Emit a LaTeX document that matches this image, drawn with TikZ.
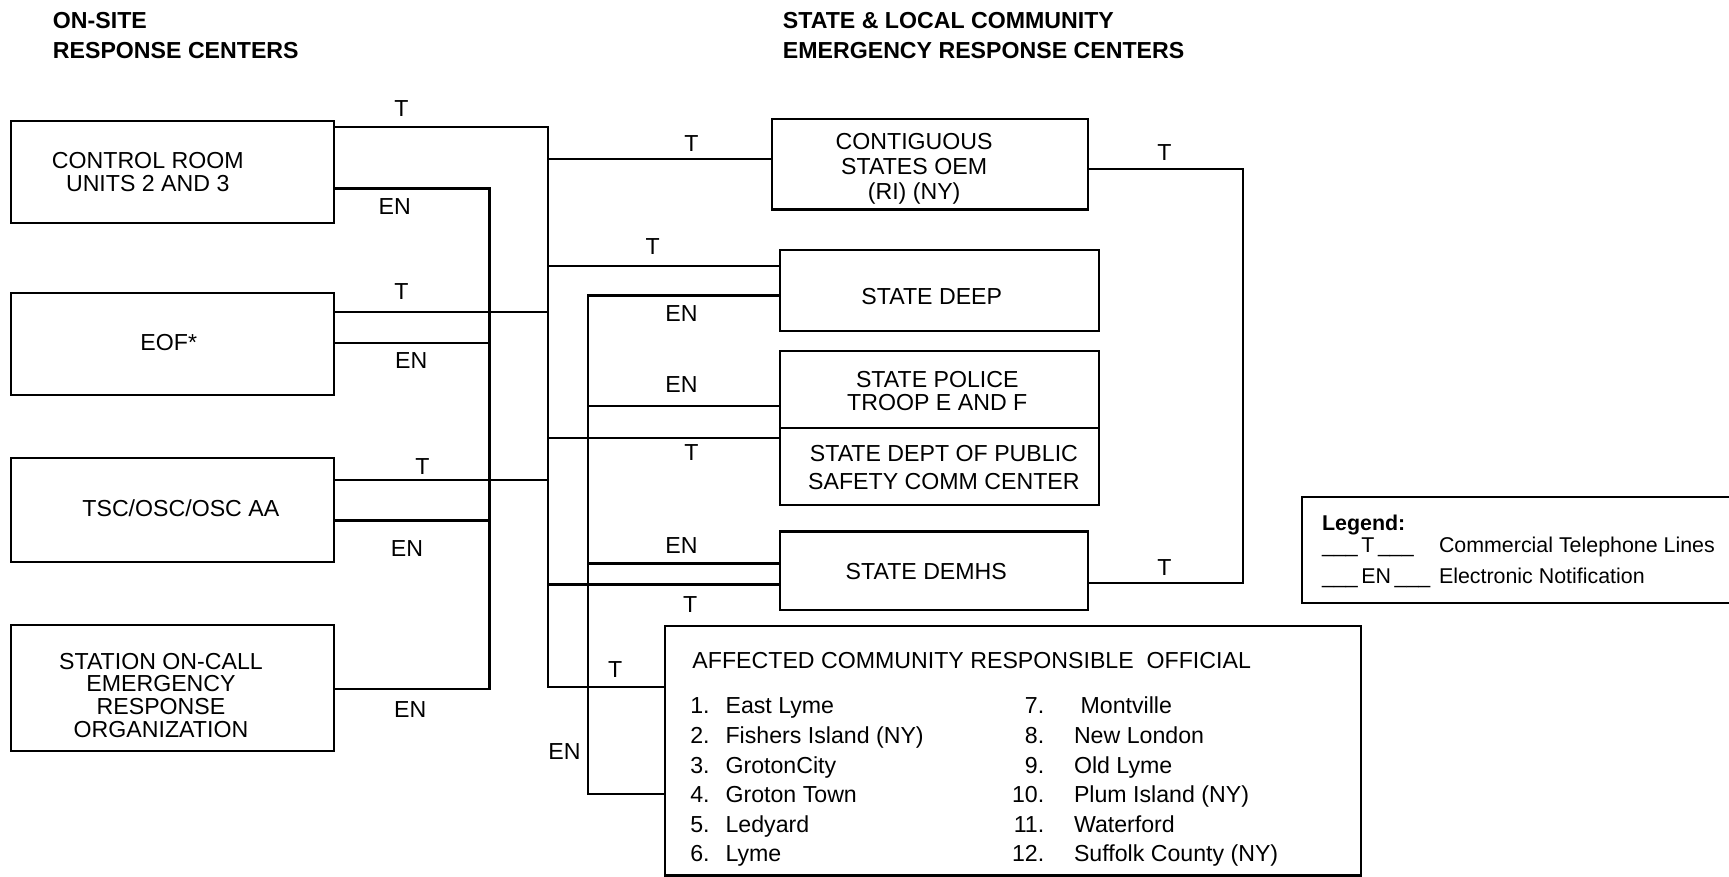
\documentclass[tikz,border=0pt]{standalone}
\usepackage{fontspec}
\setmainfont{Liberation Sans}
\begin{document}
\begin{tikzpicture}[x=1pt,y=-1pt,line width=2pt,line join=miter,
  frame/.style={draw,rectangle,inner sep=0pt,outer sep=0pt},
  ml/.style={inner sep=0pt,align=center,font=\fontsize{21}{#1}\selectfont},
  hdr/.style={inner sep=0pt,anchor=base west,font=\fontsize{21}{21}\selectfont\bfseries},
  tag/.style={inner sep=0pt,font=\fontsize{21}{21}\selectfont,text height=15pt,text depth=0pt},
  item/.style={inner sep=0pt,anchor=base west,font=\fontsize{21}{21}\selectfont},
  numr/.style={inner sep=0pt,anchor=base east,font=\fontsize{21}{21}\selectfont},
  leg/.style={inner sep=0pt,anchor=base west,font=\fontsize{19.4}{19.4}\selectfont}
]
\useasboundingbox (0,0) rectangle (1568,795);

% headers
\node[hdr] (h1) at (47,25.5) {ON-SITE};
\node[hdr] (h2) at (47,53.5) {RESPONSE CENTERS};
\node[hdr] (h3) at (709,25.5) {STATE \& LOCAL COMMUNITY};
\node[hdr] (h4) at (709,53.5) {EMERGENCY RESPONSE CENTERS};

% left boxes
\node[frame,minimum width=293pt,minimum height=92pt] (cr) at (156.5,156) {};
\node[ml=20] (crt) at (134,156) {CONTROL ROOM\\UNITS 2 AND 3};
\node[frame,minimum width=293pt,minimum height=92pt] (eof) at (156.5,312) {};
\node[ml=21] (eoft) at (153,311) {EOF*};
\node[frame,minimum width=293pt,minimum height=95pt] (tsc) at (156.5,462.5) {};
\node[ml=21] (tsct) at (164,461) {TSC/OSC/OSC AA};
\node[frame,minimum width=293pt,minimum height=114pt] (soc) at (156.5,624) {};
\node[ml=20.5] (soct) at (146,630.5) {STATION ON-CALL\\EMERGENCY\\RESPONSE\\ORGANIZATION};

% right boxes
\node[frame,minimum width=287pt,minimum height=82pt] (cont) at (843.5,149) {};
\node[ml=22.5] (contt) at (829,153) {CONTIGUOUS\\STATES OEM\\(RI) (NY)};
\node[frame,minimum width=290pt,minimum height=73pt] (deep) at (852,263.5) {};
\node[ml=21] (deept) at (845,269) {STATE DEEP};
\node[frame,minimum width=290pt,minimum height=70pt] (pol) at (852,353) {};
\node[ml=21] (polt) at (850,354.5) {STATE POLICE\\TROOP E AND F};
\node[frame,minimum width=290pt,minimum height=70pt] (ps) at (852,423) {};
\node[ml=26] (pst) at (856,424) {STATE DEPT OF PUBLIC\\SAFETY COMM CENTER};
\node[frame,minimum width=280pt,minimum height=71pt] (dem) at (847,517.5) {};
\node[ml=21] (demt) at (840,518) {STATE DEMHS};
\node[frame,minimum width=631pt,minimum height=226pt] (aff) at (918.5,681) {};
\node[item] (afft) at (627,606.5) {AFFECTED COMMUNITY RESPONSIBLE\ \ OFFICIAL};

% list
\node[item] (n1) at (625,647.5) {1.};  \node[item] (c1) at (657,647.5) {East Lyme};
\node[item] (n2) at (625,674.3) {2.};  \node[item] (c2) at (657,674.3) {Fishers Island (NY)};
\node[item] (n3) at (625,701.1) {3.};  \node[item] (c3) at (657,701.1) {GrotonCity};
\node[item] (n4) at (625,727.9) {4.};  \node[item] (c4) at (657,727.9) {Groton Town};
\node[item] (n5) at (625,754.7) {5.};  \node[item] (c5) at (657,754.7) {Ledyard};
\node[item] (n6) at (625,781.5) {6.};  \node[item] (c6) at (657,781.5) {Lyme};
\node[numr] (n7) at (948,647.5) {7.};  \node[item] (c7) at (979,647.5) {Montville};
\node[numr] (n8) at (948,674.3) {8.};  \node[item] (c8) at (973,674.3) {New London};
\node[numr] (n9) at (948,701.1) {9.};  \node[item] (c9) at (973,701.1) {Old Lyme};
\node[numr] (n10) at (948,727.9) {10.}; \node[item] (c10) at (973,727.9) {Plum Island (NY)};
\node[numr] (n11) at (948,754.7) {11.}; \node[item] (c11) at (973,754.7) {Waterford};
\node[numr] (n12) at (948,781.5) {12.}; \node[item] (c12) at (973,781.5) {Suffolk County (NY)};

% legend
\node[frame,minimum width=389pt,minimum height=96pt] (lg) at (1375.5,499) {};
\node[leg,font=\fontsize{19.4}{19.4}\selectfont\bfseries] (lg1) at (1198,481) {Legend:};
\node[leg] (lg2) at (1198,501) {\_\_\_\,T\,\_\_\_};
\node[leg] (lg3) at (1304,501) {Commercial Telephone Lines};
\node[leg] (lg4) at (1198,529) {\_\_\_\,EN\,\_\_\_};
\node[leg] (lg5) at (1304,529) {Electronic Notification};

% bus coordinates
\coordinate (T1) at (497,115);
\coordinate (T2) at (497,283);
\coordinate (T3) at (497,435);
\coordinate (T4) at (497,144);
\coordinate (T5) at (497,241);
\coordinate (T6) at (497,397);
\coordinate (T7) at (497,530);
\coordinate (T8) at (497,623);
\coordinate (E1) at (444,171);
\coordinate (E2) at (444,311);
\coordinate (E3) at (444,472);
\coordinate (E4) at (444,625);
\coordinate (R1) at (533,268);
\coordinate (R2) at (533,368);
\coordinate (R3) at (533,511);
\coordinate (R4) at (533,720);
\coordinate (C1) at (1127,153);
\coordinate (C2) at (1127,529);

% T network
\draw (cr.east |- T1) -- (T1) -- (T8) -- (aff.west |- T8);
\draw (eof.east |- T2) -- (T2);
\draw (tsc.east |- T3) -- (T3);
\draw (T4) -- (cont.west |- T4);
\draw (T5) -- (deep.west |- T5);
\draw (T6) -- (ps.west |- T6);
\draw (T7) -- (dem.west |- T7);
% EN left
\draw (cr.east |- E1) -- (E1) -- (E4) -- (soc.east |- E4);
\draw (eof.east |- E2) -- (E2);
\draw (tsc.east |- E3) -- (E3);
% EN right
\draw (deep.west |- R1) -- (R1) -- (R4) -- (aff.west |- R4);
\draw (R2) -- (pol.west |- R2);
\draw (R3) -- (dem.west |- R3);
% right T loop
\draw (cont.east |- C1) -- (C1) -- (C2) -- (dem.east |- C2);

% line tags
\node[tag] (a1) at (364,98) {T};
\node[tag] (a2) at (358,187) {EN};
\node[tag] (a3) at (364,264) {T};
\node[tag] (a4) at (373,327) {EN};
\node[tag] (a5) at (383,423) {T};
\node[tag] (a6) at (369,497) {EN};
\node[tag] (a7) at (372,643) {EN};
\node[tag] (b1) at (627,130) {T};
\node[tag] (b2) at (592,223) {T};
\node[tag] (b3) at (618,284) {EN};
\node[tag] (b4) at (618,348) {EN};
\node[tag] (b5) at (627,410) {T};
\node[tag] (b6) at (618,494) {EN};
\node[tag] (b7) at (626,548) {T};
\node[tag] (b8) at (558,607) {T};
\node[tag] (b9) at (512,681) {EN};
\node[tag] (b10) at (1056,138) {T};
\node[tag] (b11) at (1056,514) {T};
\end{tikzpicture}
\end{document}
